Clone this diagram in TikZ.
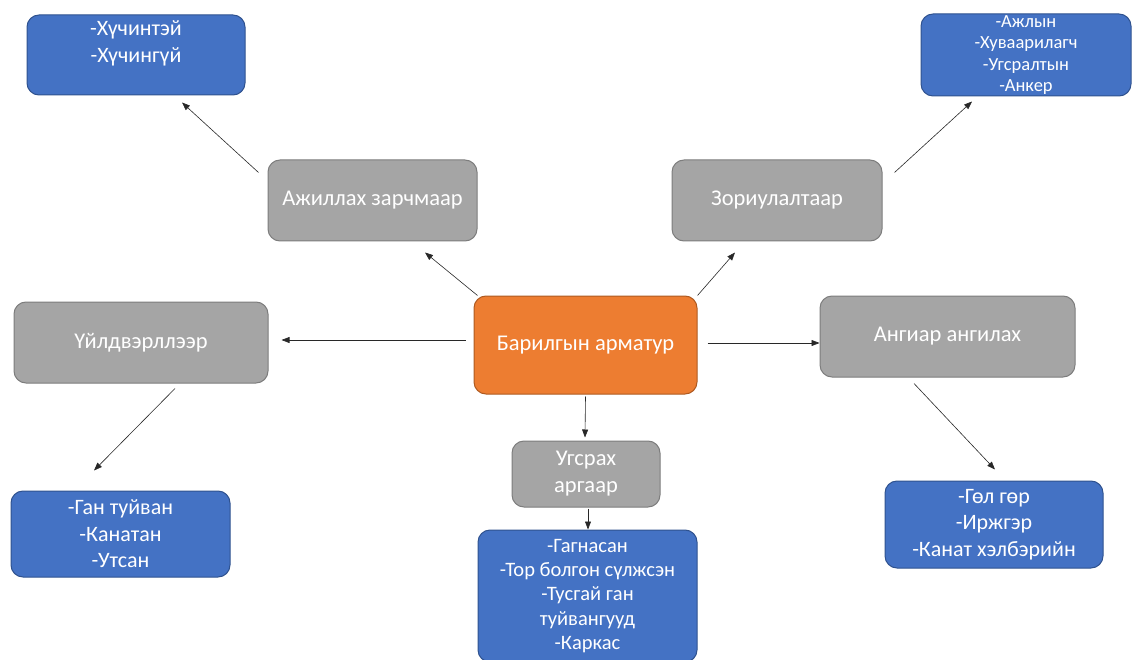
\documentclass[tikz,border=0pt]{standalone}
\usepackage{fontspec}
\setmainfont{Carlito}
\usepackage{tikz}
\usetikzlibrary{arrows.meta, calc}
\definecolor{BoxBlue}{RGB}{68, 114, 196}
\definecolor{BoxBlueEdge}{RGB}{47, 82, 143}
\definecolor{BoxGray}{RGB}{165, 165, 165}
\definecolor{BoxGrayEdge}{RGB}{125, 125, 125}
\definecolor{BoxOrange}{RGB}{237, 125, 49}
\definecolor{BoxOrangeEdge}{RGB}{174, 90, 33}
\definecolor{ArrowGray}{RGB}{40, 40, 40}

\begin{document}
\begin{tikzpicture}[
    x=1pt, y=-1pt,
    box/.style={draw, rectangle, rounded corners=12pt, inner sep=0pt, align=center, text=white, line width=1pt},
    gbox/.style={box, fill=BoxGray, draw=BoxGrayEdge, font=\fontsize{22.5}{27}\selectfont},
    bbox/.style={box, fill=BoxBlue, draw=BoxBlueEdge, font=\fontsize{22}{26.5}\selectfont},
    obox/.style={box, fill=BoxOrange, draw=BoxOrangeEdge, font=\fontsize{22.5}{27}\selectfont},
    arrow/.style={-{Triangle[length=8pt, width=6pt]}, line width=0.6pt, color=ArrowGray}
]
\useasboundingbox (0,0) rectangle (1134,660);

% center
\node[obox, minimum width=223pt, minimum height=98pt] (arm) at (585.5,345) {Барилгын арматур};

% gray boxes
\node[gbox, minimum width=209pt, minimum height=81pt] (azh) at (372.5,200.5) {Ажиллах зарчмаар};
\node[gbox, minimum width=210pt, minimum height=81pt] (zor) at (777,200.5) {Зориулалтаар};
\node[gbox, minimum width=254pt, minimum height=81pt] (uil) at (141,342.5) {Үйлдвэрллээр};
\node[gbox, minimum width=255pt, minimum height=81pt] (ang) at (947.5,336.5) {Ангиар ангилах};
\node[gbox, minimum width=148pt, minimum height=66pt] (ugs) at (586,474) {Угсрах\\аргаар};

% blue boxes
\node[bbox, minimum width=218pt, minimum height=80pt] (azhB) at (136,55) {-Хүчинтэй\\-Хүчингүй\\~};
\node[bbox, minimum width=210pt, minimum height=82pt, font=\fontsize{18.5}{21.5}\selectfont] (zorB) at (1026,55) {-Ажлын\\-Хуваарилагч\\-Угсралтын\\-Анкер};
\node[bbox, minimum width=219pt, minimum height=86pt] (uilB) at (120.5,534) {-Ган туйван\\-Канатан\\-Утсан};
\node[bbox, minimum width=218pt, minimum height=87pt] (angB) at (994,524.5) {-Гөл гөр\\-Иржгэр\\-Канат хэлбэрийн};
\node[bbox, minimum width=219pt, minimum height=132pt, font=\fontsize{20.5}{24.3}\selectfont] (ugsB) at (587.5,596) {-Гагнасан\\-Тор болгон сүлжсэн\\-Тусгай ган\\туйвангууд\\-Каркас};

% connectors
\draw[arrow] ($(arm.north west)+(4,0)$) -- ($(azh.south)+(52.5,11)$);
\draw[arrow] ($(arm.north east)+(0,0)$) -- ($(zor.south)+(-42,11)$);
\draw[arrow] ($(arm.west)+(-8,-5)$) -- ($(uil.east)+(13,-2.5)$);
\draw[arrow] ($(arm.east)+(10,-2)$) -- ($(ang.west)+(0,6.5)$);
\draw[arrow] ($(arm.south)+(0,2)$) -- ($(ugs.north)+(-1,-3)$);
\draw[arrow] ($(ugs.south)+(2,1)$) -- ($(ugsB.north)+(0.5,0)$);
\draw[arrow] ($(azh.north west)+(-9,13)$) -- ($(azhB.south)+(46,7)$);
\draw[arrow] ($(zor.north east)+(12,13)$) -- ($(zorB.south)+(-54,5)$);
\draw[arrow] ($(uil.south)+(34,5)$) -- ($(uilB.north)+(-26.5,-20)$);
\draw[arrow] ($(ang.south)+(-33.5,6)$) -- ($(angB.north)+(1,-11)$);
\end{tikzpicture}
\end{document}
